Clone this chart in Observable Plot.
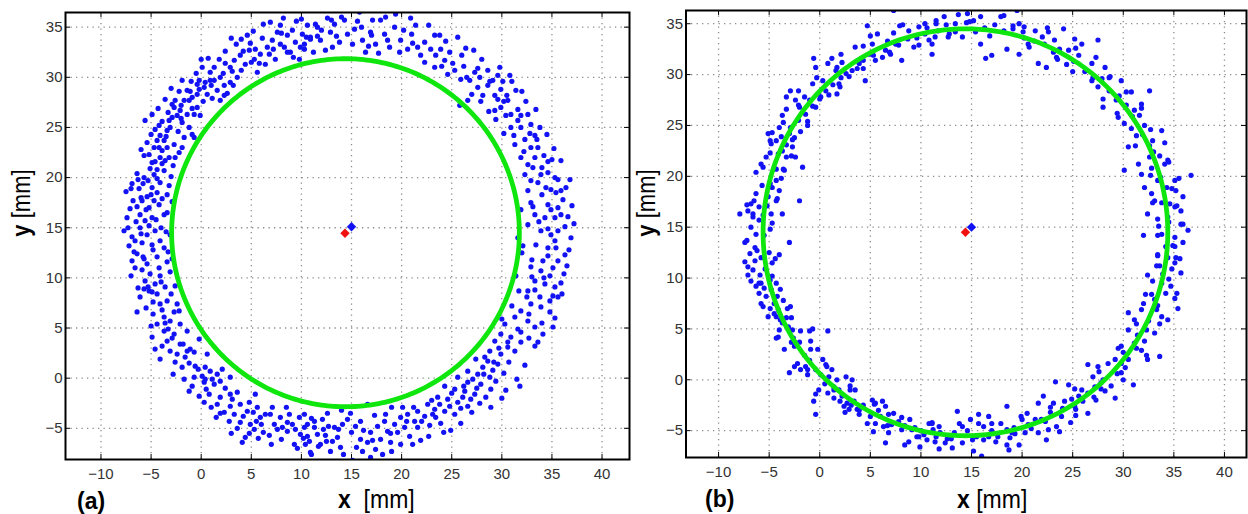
<!DOCTYPE html>
<html><head><meta charset="utf-8">
<script src="https://cdn.jsdelivr.net/npm/d3@7"></script>
<script src="https://cdn.jsdelivr.net/npm/@observablehq/plot@0.6"></script>
<style>
html,body{margin:0;padding:0;background:#fff}
body{width:1248px;height:514px;position:relative;overflow:hidden;font-family:"Liberation Sans",Arial,sans-serif}
.panel{position:absolute;top:0}
.lbl{position:absolute;color:#000;white-space:pre;line-height:1}
</style></head><body>
<div id="pa" class="panel" style="left:0px"></div>
<div id="pb" class="panel" style="left:640px"></div>
<div class="lbl" id="xla" style="left:338px;top:486px;font-size:23px;transform:scaleY(1.15);transform-origin:left top"><b>x</b>  [mm]</div>
<div class="lbl" id="xlb" style="left:957px;top:486px;font-size:23px;transform:scaleY(1.15);transform-origin:left top"><b>x</b> [mm]</div>
<div class="lbl" id="yla" style="left:22px;top:203px;font-size:22px;transform:translate(-50%,-50%) rotate(-90deg) scaleY(1.15)"><b>y</b> [mm]</div>
<div class="lbl" id="ylb" style="left:647px;top:203px;font-size:22px;transform:translate(-50%,-50%) rotate(-90deg) scaleY(1.15)"><b>y</b> [mm]</div>
<div class="lbl" id="pla" style="left:77px;top:490px;font-size:23px;font-weight:bold"></div>
<div class="lbl" id="plb" style="left:705px;top:488px;font-size:23px;font-weight:bold"></div>
<script>
// ---- tick values ----
const xTicks = [-10, -5, 0, 5, 10, 15, 20, 25, 30, 35, 40];
const yTicks = [-5, 0, 5, 10, 15, 20, 25, 30, 35];
const panelNames = ["(a)", "(b)"];

// ---- fitted circle (green) per panel ----
const fitCenterX = [14.4, 14.4];
const fitCenterY = [14.5, 14.5];
const fitRadius = [17.35, 20.0];

// ---- centre markers ----
const trueCenterX = [15.0, 15.0];   // blue diamond
const trueCenterY = [15.1, 15.0];
const fitMarkX = [14.35, 14.4];     // red diamond
const fitMarkY = [14.45, 14.5];

// ---- measured points, panel (a) ----
const aX = [-7.7,-7.3,-7.5,-7.0,-6.4,-6.8,-6.1,-5.9,-5.4,-5.2,-4.9,-5.7,-4.7,-4.4,-4.1,-4.4,-3.7,-3.6,-5.4,-4.9,-4.6,-3.7,-3.4,-4.1,-6.1,-5.6,-6.6,-4.2,-4.7,-3.4,-3.2,-4.9,-3.7,-3.1,
-5.6,-4.9,-5.7,-5.2,-4.7,-4.4,-4.1,-3.4,-3.1,-3.7,-3.4,-2.7,-2.6,-4.1,-3.2,-1.9,-2.9,-2.7,-2.9,-2.4,-1.9,-1.4,-0.9,-0.7,-1.7,-2.1,-1.7,-1.2,-0.9,-0.4,-0.4,-0.1,-0.7,-1.4,-0.4,0.3,0.6,0.4,0.1,0.9,1.3,1.6,1.9,2.3,1.3,1.9,2.3,2.9,2.9,3.3,3.6,3.9,4.4,4.6,4.8,5.3,5.4,5.6,5.9,6.4,6.6,6.9,7.1,7.6,7.9,8.3,8.6,9.1,9.4,9.8,10.1,10.6,10.9,11.4,7.4,8.9,9.9,
10.3,10.9,11.6,11.9,12.4,12.9,13.3,13.8,14.3,14.6,15.3,15.8,16.1,16.4,16.9,17.4,17.9,18.3,18.8,19.3,19.4,19.9,20.6,21.4,21.6,22.3,23.3,23.4,23.9,24.3,24.8,23.3,24.6,25.3,25.8,25.9,26.6,26.8,27.3,27.6,28.1,28.6,29.1,29.6,29.9,30.8,29.3,29.4,29.9,30.6,30.9,31.4,31.6,30.9,31.9,32.6,32.9,33.8,33.3,31.3,32.3,32.9,33.6,31.9,32.6,33.3,34.0,34.6,35.9,36.8,35.3,32.9,33.6,34.4,32.6,34.0,35.4,32.9,34.6,35.6,33.3,34.3,35.3,35.9,32.6,33.9,34.9,35.6,36.9,31.6,33.4,34.6,36.3,35.3,
34.6,35.6,36.5,32.9,33.9,34.8,33.3,34.3,35.3,32.6,33.8,34.8,35.6,32.9,33.9,31.9,34.8,31.3,32.6,33.3,31.6,30.3,29.9,30.9,31.9,33.3,29.3,30.6,28.8,29.9,31.3,27.4,28.6,29.6,28.1,26.6,27.6,28.8,31.8,25.6,26.6,27.9,24.3,25.3,26.3,27.3,28.4,23.6,24.6,25.6,26.6,22.6,23.3,24.3,25.3,21.6,22.3,23.4,20.6,21.3,19.9,19.3,20.3,21.6,18.3,18.6,17.6,16.6,16.9,17.9,18.9,19.9,15.9,15.9,16.6,16.9,15.1,15.0,14.1,13.9,13.1,13.3,12.4,12.1,11.9,11.3,11.0,10.6,10.3,10.4,14.6,13.6,
-6.9,-6.4,-5.4,-4.4,-3.4,-2.9,-6.1,-5.6,-5.1,-4.6,-4.1,-3.6,-5.2,-4.4,-3.4,-4.8,-4.1,-2.6,-2.4,-4.8,-4.4,-3.7,-3.1,-2.1,-3.7,-2.7,-1.4,-0.2,-3.4,-4.1,-3.1,-2.1,-2.4,-1.6,-1.1,-1.9,0.6,-0.6,-1.7,-0.7,0.1,0.9,1.6,2.1,2.9,0.3,1.3,1.9,-0.2,0.8,1.9,2.9,3.6,1.0,2.9,3.9,4.8,5.4,3.3,4.6,5.6,6.4,3.9,4.9,5.9,6.9,7.3,7.9,8.8,4.4,5.3,6.2,8.6,9.3,9.9,10.3,10.9,9.8,10.6,11.3];
const aY = [14.7,15.0,18.6,18.9,20.4,17.7,16.3,17.7,18.1,17.0,19.0,20.0,20.3,18.5,19.5,20.8,20.7,21.7,14.3,16.0,14.7,16.3,16.5,13.7,15.0,15.7,13.7,17.3,17.7,18.3,19.2,13.3,13.0,14.3,
25.7,26.3,22.2,22.3,23.0,23.7,24.2,24.7,25.0,23.7,23.0,23.3,22.0,22.0,22.0,23.0,26.0,27.0,27.3,26.2,25.5,26.3,24.3,24.0,24.0,26.7,27.7,27.7,28.0,28.3,27.0,26.2,26.3,28.7,29.3,29.0,28.3,29.5,31.0,30.5,29.7,28.7,27.7,28.2,31.0,30.0,29.2,29.5,31.0,31.7,30.0,32.2,31.3,34.2,32.7,31.8,32.8,30.5,32.3,31.3,33.0,35.5,33.7,34.5,35.2,33.0,34.2,34.7,33.5,31.8,34.3,35.2,33.8,35.3,31.8,32.5,33.0,
33.3,34.0,35.0,33.7,32.7,34.5,35.3,33.5,35.7,34.3,34.8,36.5,33.7,32.5,34.5,33.3,35.7,34.3,33.0,35.0,36.3,33.7,32.8,35.2,33.0,31.5,34.2,32.2,32.8,31.7,32.5,31.0,30.3,30.7,27.2,29.8,27.7,29.7,30.5,29.0,28.2,30.7,29.7,30.2,28.8,30.2,26.7,25.8,27.0,27.7,26.3,28.7,26.8,25.0,25.0,26.3,25.3,25.0,24.2,23.3,23.8,23.0,23.0,22.0,21.3,22.0,21.0,20.5,21.7,19.8,20.0,19.7,19.5,19.0,18.7,18.3,18.5,17.5,17.3,17.0,16.3,16.0,16.0,16.3,15.3,14.7,14.3,14.7,14.0,14.0,13.3,13.0,12.3,13.7,
12.2,11.7,11.2,11.1,10.7,10.2,9.7,9.4,9.1,8.7,8.1,7.7,8.1,7.4,7.1,6.7,6.6,6.1,5.7,5.1,4.9,5.4,4.4,4.1,4.6,3.2,3.7,3.1,2.7,2.4,2.7,1.9,1.7,1.4,1.1,0.7,0.4,0.1,-0.8,0.1,-0.4,-0.6,-0.8,-1.1,-1.3,-1.6,-1.9,-1.9,-2.1,-2.4,-2.8,-2.6,-3.1,-3.3,-3.6,-3.3,-3.8,-3.9,-3.6,-4.3,-3.9,-4.6,-4.9,-4.9,-4.3,-5.3,-4.8,-2.6,-5.4,-6.1,-6.4,-6.6,-4.3,-6.1,-6.4,-7.9,-8.2,-5.4,-4.6,-6.9,-6.3,-4.9,-5.7,-4.1,-6.6,-4.9,-7.6,-5.8,-3.6,-6.6,-4.1,-5.9,
11.7,12.4,11.4,12.1,11.6,11.9,8.1,9.7,10.4,9.4,10.2,9.1,8.7,8.4,7.7,7.6,7.4,9.2,7.4,6.4,5.4,6.1,5.7,5.4,4.7,4.4,4.7,3.9,3.7,1.9,2.7,3.4,2.4,2.1,2.9,1.1,2.4,1.2,-0.1,0.1,0.2,0.7,0.4,0.9,0.1,-0.4,-0.6,-0.3,-1.8,-1.6,-1.9,-1.6,-1.4,-2.9,-2.8,-2.6,-2.4,-1.6,-3.6,-3.3,-2.9,-3.6,-4.4,-4.6,-3.9,-3.6,-4.6,-3.9,-3.6,-5.9,-5.1,-5.4,-5.3,-6.6,-5.6,-4.9,-7.4,-3.9,-4.6,-4.3];

// further points read from the denser parts of ring (a), as [x, y]
const aMore = [[-7.2,13.2],[-6.9,14.1],[-6.5,15.6],[-7.1,16.9],[-6.2,18.9],[-5.8,19.4],[-5.1,20.9],[-6.7,12.6],[-5.9,13.5],[-5.2,15.2],[-4.5,15.8],[-4.0,15.0],[-3.5,14.6],[-3.9,17.9],[-2.9,17.6],[-3.0,20.1],[-2.8,21.2],[-4.9,21.5],[-5.4,23.5],[-6.0,22.8],[-4.6,24.8],[-3.9,25.6],[-5.0,24.3],[-3.3,26.5],[-2.3,24.6],[-1.2,25.0],[-4.3,26.9],[-3.6,27.8],[-2.2,28.6],[-1.0,29.6],[-3.0,28.9],[-1.9,29.7],[-0.5,30.4],[0.0,31.8],
[-6.6,11.0],[-5.9,10.8],[-7.0,10.2],[-6.3,9.0],[-5.3,9.1],[-4.2,11.0],[-3.1,10.6],[-3.0,8.4],[-2.7,6.6],[-5.5,7.0],[-6.4,6.6],[-5.0,5.2],[-3.9,3.2],[-2.6,1.6],[-4.6,2.9],[-1.2,1.5],[-0.3,0.9],[-2.8,0.4],[-0.9,-0.8],[0.5,-1.1],[-1.2,-1.3],[0.3,-2.4],[1.6,-2.6],[2.3,-3.4],[1.5,-3.9],[2.8,-4.3],[3.6,-5.0],[3.0,-5.5],[4.1,-6.4],[5.7,-6.0],[6.8,-5.7],[7.0,-6.6],[8.0,-6.1],[8.1,-4.9],[9.1,-4.6],[9.6,-7.0],[10.8,-6.3],[11.6,-5.6],[12.7,-4.8],[12.9,-7.3],[12.6,-3.5],[14.2,-7.6],[15.5,-6.9],[14.9,-3.5],[16.2,-5.2],[17.4,-7.1],[17.3,-3.7],[19.0,-7.3],[18.9,-5.5],[20.8,-5.8],[20.1,-2.9],[21.9,-6.2],[22.8,-4.7],[22.7,-5.8],[23.9,-4.5],[24.9,-5.2],[24.8,-2.8],[25.9,-4.5],[26.1,-1.9],[27.0,-3.4],[27.8,-2.5],[28.9,-1.1],[29.4,-0.3],[27.1,-0.1],[30.2,0.5],[30.7,1.6],[29.1,0.8],[32.3,1.3],[31.9,3.6],[32.7,4.0],[30.4,-1.2],[34.0,5.5],[34.1,4.4],[35.3,6.0],[35.9,9.5],[36.2,10.4],[35.1,11.0],[36.7,12.8],[37.2,15.4],[36.3,15.1],[36.1,17.8],[37.0,17.2],[36.4,19.0],[35.0,21.8],[35.2,22.9],[34.2,22.2],[34.5,24.3],[33.4,26.8],[32.4,27.6],[32.0,28.6],[31.0,29.6],[29.8,31.0],[28.0,31.8],[27.2,32.7],[26.0,32.2],[25.6,34.0],[24.4,33.6],[22.7,35.2],[22.3,33.5],[21.0,34.3],[20.9,35.9],[18.4,36.0],[17.1,35.7],[16.7,33.1],[15.1,33.3],[13.5,34.1],[12.6,35.9],[12.0,34.7],[11.2,32.5],[10.0,35.8],[9.5,35.6],[8.2,35.9],[6.1,33.9],[5.2,34.6],[3.5,33.3],[2.4,32.6],[1.8,31.8],[0.7,31.9],[3.0,33.9],[4.0,33.8],[6.2,35.3],
[31.4,10.2],[31.7,8.7],[32.0,12.5],[32.1,13.2],[31.9,16.8],[32.3,20.3],[33.0,10.1],[34.1,11.7],[33.7,15.6],[36.0,8.4],[35.1,5.1],[33.6,3.6],[31.5,-0.1],[30.0,-2.0],[28.9,-2.9],[27.9,27.6],[28.7,26.6],[30.2,24.4],[31.2,24.2],[32.2,22.6],[33.1,21.0],[30.5,28.2],[29.3,28.2],[27.0,28.3],[26.2,31.1],[28.6,29.2],[30.1,29.6],
[-4.9,4.1],[-3.3,4.9],[-2.2,6.7],[-1.8,3.4],[-0.7,2.6],[0.4,1.1],[1.1,-0.1],[2.4,-1.0],[3.1,-2.1],[4.2,-3.8],[5.2,-3.4],[6.0,-4.6],[7.6,-5.1],[8.6,-4.4],[9.4,-5.1],[10.2,-6.0],[11.7,-6.8],[12.2,-5.1],[13.7,-5.1],[15.4,-4.8],[16.1,-7.3],[17.1,-6.2],[18.1,-7.6],[19.6,-5.4],[20.5,-4.3],[21.1,-6.6],[22.0,-4.3],[23.1,-3.6],[23.8,-2.6],[24.2,-5.4],[25.9,-3.0],[26.9,-2.1],[27.5,-1.0],[28.2,0.4],[28.3,2.1],[29.7,3.0],[30.0,5.9],[31.0,7.2],[32.5,8.1],[33.3,8.8],[33.0,11.8],[34.6,14.9],[33.1,17.1],[34.9,18.8],[33.9,20.3],[32.8,24.4],[31.6,25.7],[30.4,26.2],[29.6,27.8],[28.8,29.6],[27.6,30.9],[26.5,30.0],[25.1,31.4],[24.0,31.1],[22.9,32.8],[21.9,32.2],[20.2,34.7],[18.6,33.7],[17.7,32.4],[15.6,35.6],[14.0,36.0],[13.1,33.0],[11.6,34.1],[10.3,32.8],[8.6,32.5],[7.9,33.3],[6.8,32.3],[5.0,31.5],[4.2,32.6],[3.1,30.6],[2.2,30.4],[1.0,29.2],[-0.2,29.7],[-1.1,28.6],[-2.0,27.2],[-3.2,25.7],[-4.2,25.2],[-3.9,22.7],[-4.6,21.6],[-5.3,19.7],[-6.3,19.8],[-5.5,16.8],[-6.4,17.1],[-5.8,12.1],[-4.8,12.8],[-3.3,12.6],[-4.0,9.6],[-5.7,8.9],[-3.9,6.8],[-2.9,4.0],
[-4.4,19.9],[-5.0,18.3],[-6.0,18.0],[-3.9,21.4],[-4.2,23.0],[-2.2,22.5],[-3.5,24.1],[-2.0,25.9],[-2.6,27.7],[-0.9,26.9],[0.2,27.6],[-0.2,28.8],[0.9,29.7],[1.1,27.9],[2.6,28.4],[3.2,29.2],[2.4,31.4],[4.0,30.7],[4.9,33.4],[5.8,31.4],[7.2,32.8],[8.0,34.4],[9.2,32.0],[10.5,34.0],[13.0,35.7],[16.0,35.0],[17.0,34.2],[19.8,32.5],[21.1,33.4],[23.8,34.2],[26.4,32.9],[27.8,30.0],[30.2,27.6],[31.9,26.2],[33.5,23.8],[34.6,21.6],[35.6,19.8],[35.9,18.7],[34.9,16.8],[36.6,16.1],[35.4,13.0],[34.2,10.0],[35.1,8.2],[32.7,6.4],[30.6,3.6],[29.2,1.6],[26.2,-0.8],[25.0,-1.5],[23.0,-2.2],[21.2,-2.9],[19.0,-2.9],[18.4,-3.6],[14.0,-3.2],[12.5,-6.3],[11.0,-4.0],[8.5,-2.9],[7.1,-2.9],[5.5,-4.3],[4.8,-5.5],[1.9,-3.5],[0.4,-0.1],[-1.4,2.7],[-3.6,5.5],[-4.9,8.6],[-5.7,11.9],[-6.0,14.4],[-7.4,16.0],[-6.9,19.4]];

// ---- measured points, panel (b) ----
const bX = [-7.9,-7.4,-7.1,-6.8,-6.5,-6.3,-6.6,-6.0,-6.8,-6.3,-6.0,-5.6,-5.8,-5.3,-5.1,-4.7,-4.8,-4.3,-4.0,-3.7,-3.3,-3.3,-3.8,-3.7,-3.3,-3.5,-4.3,-4.7,-4.0,-5.1,-4.8,-4.3,-3.7,-3.0,-2.0,-1.7,-2.4,-2.7,-3.0,-2.5,-2.9,-2.4,-2.0,-1.5,-1.4,-1.0,-0.7,-0.4,-0.1,0.3,0.6,-0.6,-0.4,0.8,1.2,1.6,1.7,1.9,2.2,2.9,3.2,3.5,3.9,4.5,4.9,4.7,5.2,5.5,5.7,6.5,7.0,7.3,7.5,8.1,7.9,8.8,9.3,9.8,10.4,11.1,10.8,11.4,
-7.4,-7.1,-6.6,-6.8,-6.3,-6.0,-6.0,-5.8,-5.3,-5.1,-4.8,-4.7,-4.3,-4.0,-4.7,-5.0,-4.5,-4.2,-4.3,-4.3,-4.0,-3.7,-3.3,-3.2,-2.9,-3.5,-3.0,-2.7,-2.5,-1.9,-2.2,-1.9,-1.4,-1.0,-0.7,-0.9,-0.2,-1.2,-0.6,-0.4,-0.1,0.3,0.8,0.6,0.9,0.8,1.2,1.7,1.9,2.2,2.6,2.7,3.0,3.2,3.4,3.7,3.5,2.9,2.4,4.7,5.2,5.5,5.8,6.2,6.5,6.8,7.3,5.5,6.3,6.5,7.8,8.1,8.9,9.1,9.6,9.9,10.3,10.8,11.2,11.4,8.8,
11.1,11.5,12.3,12.8,13.4,14.1,14.6,15.2,15.9,16.4,17.0,17.9,18.5,19.5,19.7,19.7,20.1,20.6,21.3,21.6,22.0,22.4,22.6,23.4,24.1,24.6,25.2,25.6,25.9,26.4,26.9,27.5,27.5,28.2,28.0,28.7,29.3,29.5,29.8,30.1,30.5,30.8,31.1,31.8,32.6,32.1,32.9,30.1,31.5,31.8,32.1,32.4,32.8,33.1,33.6,33.4,33.8,34.1,34.4,35.1,35.2,35.9,36.7,35.7,35.1,34.4,35.7,36.4,32.0,33.8,35.1,35.9,33.4,35.2,
33.4,34.4,35.1,35.7,32.4,32.9,33.8,34.7,34.2,35.1,33.1,33.8,35.4,34.4,30.5,31.1,31.8,32.3,33.1,33.6,32.4,30.5,29.8,31.1,31.8,30.5,31.0,29.2,29.8,28.5,27.5,28.0,29.2,26.5,27.0,28.2,27.2,26.5,25.9,26.5,25.6,25.2,24.6,24.2,23.9,23.3,23.1,23.4,23.7,22.6,22.1,21.6,21.3,22.4,20.5,20.6,20.3,19.7,20.0,18.7,18.5,18.5,18.8,17.9,17.4,16.7,16.7,16.0,15.7,15.7,14.9,15.1,14.1,13.6,13.8,13.1,12.8,12.4,11.8,11.1,11.5];
const bY = [16.3,13.5,16.6,17.3,17.6,18.3,16.3,17.0,15.0,14.3,15.7,20.9,21.2,21.9,24.2,24.3,23.2,23.5,24.8,26.0,26.6,27.8,23.9,22.5,21.9,20.6,19.6,18.9,18.6,18.0,16.3,17.6,16.3,13.5,17.6,20.9,21.9,22.9,24.2,23.8,28.4,27.5,26.8,27.8,26.1,27.5,29.1,26.8,28.1,29.4,28.4,31.6,30.7,31.1,31.6,30.4,28.1,29.1,31.2,29.8,30.4,32.7,31.1,29.4,32.0,34.8,33.0,31.4,34.0,32.4,32.0,36.3,33.0,31.4,34.8,34.3,32.7,34.7,34.0,32.0,33.4,33.7,
11.6,11.1,10.8,9.7,9.2,9.5,8.5,7.5,8.2,6.2,8.9,10.2,9.5,12.3,11.5,12.5,7.5,8.2,6.2,4.1,4.9,5.6,6.1,7.0,7.2,3.0,0.7,4.9,3.3,4.8,1.6,1.0,1.3,4.8,5.0,3.0,3.0,0.5,-2.1,-3.4,-1.0,2.0,4.8,1.5,0.3,-1.3,1.0,0.0,-1.0,-1.6,0.3,-2.3,-1.0,0.0,-2.1,-2.9,-1.0,-2.9,-2.6,-4.3,-2.0,-2.3,-3.0,-2.1,-2.6,-3.4,-3.3,-4.3,-4.6,-6.2,-4.1,-4.9,-3.9,-4.9,-5.6,-6.6,-5.4,-4.3,-4.9,-6.1,-6.1,
33.0,35.0,35.7,34.0,35.0,33.7,36.0,35.3,33.0,31.6,31.9,35.7,32.5,36.3,35.0,32.0,34.2,33.0,34.3,31.1,33.7,30.7,34.2,31.7,34.5,32.4,33.5,31.9,33.0,30.4,31.1,33.4,28.8,30.7,26.8,29.8,27.5,25.8,29.4,25.2,22.9,28.3,26.5,27.1,28.4,25.0,23.5,20.6,21.2,20.2,18.9,16.3,18.3,17.6,22.0,19.6,24.5,21.2,21.6,19.6,18.6,18.0,20.1,16.6,17.0,16.0,15.3,14.7,14.2,14.3,14.0,13.5,12.2,12.0,
12.3,12.0,11.5,10.5,10.3,9.7,9.5,9.2,8.5,8.0,7.9,6.2,7.0,5.9,6.6,5.9,6.9,4.9,4.6,2.3,2.0,4.9,3.3,3.6,2.9,2.0,-0.5,2.0,0.7,1.6,1.3,0.0,-1.8,1.5,0.3,-1.1,-0.7,-1.3,-1.0,-3.3,-1.6,-2.6,-0.5,-2.1,-3.6,-0.2,-2.3,-4.6,-5.1,-4.9,-1.6,-2.3,-3.9,-5.9,-3.3,-4.4,-5.2,-6.4,-3.9,-6.9,-2.6,-4.9,-5.7,-4.3,-6.1,-3.6,-5.6,-7.5,-3.4,-4.3,-3.9,-5.9,-6.2,-3.1,-4.3,-6.7,-5.5,-6.2,-4.6,-4.3,-5.6];

// further points read from the denser parts of ring (b), as [x, y]
const bMore = [[-6.4,13.0],[-5.8,12.0],[-6.9,12.4],[-5.4,10.9],[-5.9,10.3],[-4.9,9.8],[-5.5,9.0],[-4.9,7.0],[-4.1,6.9],[-3.6,7.8],[-3.9,5.9],[-3.1,5.2],[-2.6,4.1],[-2.0,3.7],[-1.5,2.4],[-1.0,1.9],[-0.4,1.0],[0.1,0.5],[0.5,-0.4],[1.4,-0.7],[1.4,-1.8],[2.0,-2.1],[3.1,-2.5],[3.9,-3.4],[4.3,-2.5],[5.0,-3.6],[6.0,-3.6],[7.1,-4.4],[6.8,-5.2],[8.4,-4.5],[9.4,-4.7],[10.0,-5.0],[10.6,-5.9],[11.9,-5.2],[12.6,-5.8],[13.3,-5.2],[14.6,-5.0],[15.5,-5.6],[16.2,-4.6],[17.0,-5.0],[17.6,-5.6],[19.2,-4.7],[19.0,-5.2],[20.9,-4.8],[21.9,-3.9],[22.8,-3.2],[24.0,-2.8],[24.9,-1.9],[25.3,-3.5],[26.0,-2.1],[27.1,-1.7],[27.8,-0.3],[28.8,-0.6],[29.4,0.6],[30.2,1.2],[30.0,2.7],[31.3,3.1],[31.4,4.4],[32.5,5.8],[32.0,7.5],[33.4,7.3],[32.8,8.4],[33.9,10.4],[34.8,10.9],[33.6,11.2],[34.2,13.1],[34.9,13.2],[33.5,15.1],[34.5,15.5],[34.6,17.3],[33.8,17.4],[34.3,18.9],[33.7,19.9],[32.8,20.8],[33.0,22.4],[32.6,23.0],[31.9,24.1],[31.3,24.0],[30.9,25.9],[31.6,26.0],[30.3,27.0],[29.6,27.9],[28.6,28.4],[27.9,29.6],[27.0,29.7],[26.2,30.3],[25.1,31.3],[24.4,31.0],[23.7,32.5],[23.1,32.2],[22.2,33.0],[21.2,33.3],[20.2,33.6],[19.1,34.5],[18.2,34.3],[17.3,34.9],[16.3,34.6],[15.4,34.2],[14.5,35.1],[13.4,34.2],[12.5,34.9],[11.7,34.3],[10.6,34.6],[9.6,33.6],[8.7,33.5],[7.8,32.9],[6.7,33.3],[6.2,31.7],[5.3,31.9],[4.3,31.4],[3.7,30.6],[2.6,30.1],[2.1,29.7],[1.3,29.0],[0.9,28.0],[0.0,27.6],[-0.7,26.9],[-1.2,25.4],[-1.9,24.4],[-2.1,25.5],[-2.9,24.8],[-3.3,23.1],[-2.8,22.0],[-4.1,22.2],[-4.3,20.7],[-3.8,19.8],[-4.9,19.3],[-5.2,17.1],[-5.6,16.2],[-4.7,15.4],[-5.5,14.2],[-6.4,11.7],
[35.9,15.3],[33.4,15.8],[35.3,17.1],[32.9,17.4],[34.8,18.8],[35.5,19.8],[32.7,20.1],[34.5,21.4],[32.6,21.9],[34.1,23.3],[31.2,23.0],[32.7,24.6],[30.8,24.7],[31.8,26.7],[29.4,26.2],[30.3,28.3],[28.0,27.6],[28.6,29.7],[26.9,29.4],[27.3,31.7],[25.0,30.3],[25.3,32.6],[23.5,31.5],[23.2,33.4],[22.5,34.6],[20.7,32.7],[20.2,34.7],[19.1,34.8],[18.2,35.8],[16.8,33.8],[15.9,35.7],[14.8,35.2],
[13.7,35.9],[12.7,33.7],[11.5,35.3],[10.4,35.0],[9.8,32.9],[8.2,34.9],[7.3,34.1],[6.9,32.2],[5.0,33.8],[4.3,32.8],[4.3,30.6],[2.1,32.0],[1.7,30.7],[2.0,28.8],[-0.3,29.7],[0.1,27.8],[-2.1,28.4],[-2.1,27.0],[-1.2,25.0],[-3.6,25.3],[-2.7,23.6],[-4.9,23.5],[-4.9,22.3],[-3.6,20.7],[-6.3,20.4],[-5.7,19.1],[-4.2,17.8],[-7.2,17.2],[-6.6,16.0],[-4.9,14.8],
[-7.2,13.7],[-6.2,12.7],[-4.4,11.9],[-7.1,10.3],[-5.8,9.5],[-3.9,8.9],[-5.6,7.2],[-4.5,6.5],[-2.8,6.1],[-4.1,4.2],[-2.8,3.7],[-0.9,3.8],[-2.5,1.3],[-1.2,1.0],[0.7,1.3],[-0.4,-1.4],[1.4,-1.0],[3.0,-0.6],[2.5,-3.2],[3.9,-3.0],[5.4,-2.4],[5.3,-5.1],[6.7,-4.5],[8.1,-3.7],[8.4,-6.4],[9.8,-5.6],[11.1,-4.2],[11.8,-6.8],[13.0,-5.8],[14.1,-4.6],
[15.2,-7.0],[16.2,-5.9],[17.0,-4.3],[18.5,-6.4],[19.3,-5.3],[19.9,-3.6],[21.6,-5.2],[22.3,-4.1],[22.8,-2.7],[24.8,-4.2],[25.3,-2.9],[25.2,-0.9],[27.3,-2.0],[27.8,-0.9],[27.6,0.8],[30.0,0.0],[29.8,1.6],[29.5,3.1],[32.3,2.4],[32.1,3.8],[31.3,5.5],[33.6,5.5],[33.3,6.9],[32.2,8.4],[35.3,8.5],[34.5,9.9],[33.3,11.2],[35.6,11.9],[35.1,13.1],[33.4,14.2]];

// ---- panel layout (pixels) ----
const layouts = [
  {id: "pa", xd: [-13.54, 42.74], yd: [-8.11, 36.46], width: 645, height: 490, ml: 65, mr: 16, mt: 12, mb: 31},
  {id: "pb", xd: [-13.22, 42.18], yd: [-7.64, 36.30], width: 608, height: 490, ml: 45.5, mr: 2, mt: 10, mb: 33}
];

function drawPanel(k, xs, ys, more) {
  const L = layouts[k];
  const pts = xs.map((x, i) => ({x, y: ys[i]})).concat(more.map(([x, y]) => ({x, y})));
  const cx = fitCenterX[k], cy = fitCenterY[k], r = fitRadius[k];
  const ring = d3.range(0, 361, 1).map(a => ({x: cx + r * Math.cos(a * Math.PI / 180), y: cy + r * Math.sin(a * Math.PI / 180)}));
  const pxX = (L.width - L.ml - L.mr) / (L.xd[1] - L.xd[0]);
  const pxY = (L.height - L.mt - L.mb) / (L.yd[1] - L.yd[0]);
  const tY = 5 / pxY, tX = 5 / pxX;
  const grid = {stroke: "#8c8c8c", strokeOpacity: 1, strokeWidth: 1.3, strokeDasharray: "1.3,4.2"};
  const chart = Plot.plot({
    width: L.width, height: L.height,
    marginLeft: L.ml, marginRight: L.mr, marginTop: L.mt, marginBottom: L.mb,
    x: {domain: L.xd}, y: {domain: L.yd},
    style: {background: "transparent", fontFamily: "'Liberation Sans', Arial, sans-serif", fontSize: "15px", color: "#333", overflow: "visible"},
    marks: [
      Plot.gridX(xTicks, grid),
      Plot.gridY(yTicks, grid),
      Plot.ruleX(xTicks, {x: d => d, y1: L.yd[0], y2: L.yd[0] + tY, stroke: "#000"}),
      Plot.ruleX(xTicks, {x: d => d, y1: L.yd[1] - tY, y2: L.yd[1], stroke: "#000"}),
      Plot.ruleY(yTicks, {y: d => d, x1: L.xd[0], x2: L.xd[0] + tX, stroke: "#000"}),
      Plot.ruleY(yTicks, {y: d => d, x1: L.xd[1] - tX, x2: L.xd[1], stroke: "#000"}),
      Plot.dot(pts, {x: "x", y: "y", r: 2.6, fill: "#1212f5", stroke: "none", clip: true}),
      Plot.line(ring, {x: "x", y: "y", stroke: "#0ee60e", strokeWidth: 4.8, clip: true}),
      Plot.dot([{x: fitMarkX[k], y: fitMarkY[k]}], {x: "x", y: "y", symbol: "diamond2", r: 4.2, fill: "#f01010", stroke: "none"}),
      Plot.dot([{x: trueCenterX[k], y: trueCenterY[k]}], {x: "x", y: "y", symbol: "diamond2", r: 4.2, fill: "#1212f5", stroke: "none"}),
      Plot.frame({stroke: "#000", strokeWidth: 2}),
      Plot.axisX(xTicks, {tickSize: 0, tickPadding: 9, label: null, fill: "#333"}),
      Plot.axisY(yTicks, {tickSize: 0, tickPadding: 3, label: null, fill: "#333"})
    ]
  });
  document.getElementById(L.id).append(chart);
}

drawPanel(0, aX, aY, aMore);
drawPanel(1, bX, bY, bMore);
document.getElementById("pla").textContent = panelNames[0];
document.getElementById("plb").textContent = panelNames[1];
</script>
</body></html>
